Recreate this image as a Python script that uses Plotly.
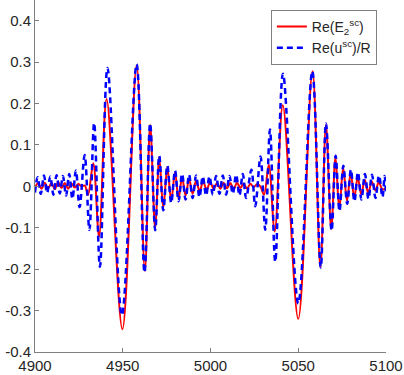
import plotly.graph_objects as go

# red solid: Re(E2 sc) -- turning points
e_x = [4900, 4901.8, 4903.7, 4905.6, 4907.5, 4909.4, 4911.3, 4913.2, 4915.1, 4917.0,
       4918.9, 4920.8, 4922.7, 4924.6, 4926.5, 4928.4, 4930.2, 4933.2, 4936.5, 4940.8,
       4949.8, 4957.9, 4962.6, 4965.6, 4968.5, 4970.8, 4973.1, 4975.4, 4977.6, 4979.8,
       4981.8, 4983.8, 4985.8, 4987.8, 4989.8, 4991.8, 4993.8, 4995.8, 4997.8, 4999.8,
       5001.8, 5003.7, 5005.6, 5007.5, 5009.4, 5011.3, 5013.2, 5015.1, 5017.0, 5018.9,
       5020.8, 5022.7, 5024.6, 5026.5, 5028.4, 5030.5, 5033.2, 5036.6, 5041.2, 5050.0,
       5058.1, 5062.6, 5065.8, 5068.8, 5071.2, 5073.4, 5075.6, 5077.8, 5079.9, 5081.9,
       5083.9, 5085.9, 5087.9, 5089.9, 5091.9, 5093.9, 5095.9, 5097.9, 5100]
e_y = [-0.004, 0.008, -0.006, 0.009, -0.005, 0.008, -0.007, 0.010, -0.004, 0.008,
       -0.006, 0.007, -0.003, 0.006, 0.0, 0.002, -0.021, 0.056, -0.121, 0.211,
       -0.345, 0.292, -0.204, 0.148, -0.103, 0.070, -0.052, 0.046, -0.035, 0.034,
       -0.030, 0.022, -0.022, 0.018, -0.018, 0.014, -0.012, 0.012, -0.008, 0.010,
       -0.006, 0.008, -0.006, 0.009, -0.005, 0.008, -0.007, 0.009, -0.004, 0.007,
       -0.006, 0.006, -0.002, 0.005, 0.0, -0.020, 0.052, -0.109, 0.196, -0.320,
       0.278, -0.195, 0.148, -0.103, 0.070, -0.055, 0.045, -0.035, 0.034, -0.028,
       0.022, -0.020, 0.016, -0.016, 0.012, -0.010, 0.010, -0.007, -0.005]

# blue dashed: Re(u sc)/R
u_x = [4900, 4901.5, 4903.3, 4905.1, 4906.9, 4908.7, 4910.5, 4912.3, 4914.1, 4915.9,
       4917.7, 4919.5, 4921.3, 4923.3, 4925.4, 4928.3, 4931.0, 4933.7, 4937.0, 4941.3,
       4949.5, 4957.9, 4962.4, 4965.6, 4968.5, 4970.8, 4973.1, 4975.4, 4977.6, 4979.8,
       4981.8, 4983.8, 4985.8, 4987.8, 4989.8, 4991.8, 4993.7, 4995.6, 4997.5, 4999.4,
       5001.3, 5003.2, 5005.1, 5007.0, 5008.9, 5010.8, 5012.7, 5014.6, 5016.5, 5018.4,
       5020.3, 5023.3, 5025.5, 5028.5, 5031.2, 5033.9, 5036.9, 5041.3, 5050.0,
       5058.0, 5062.8, 5065.8, 5069.0, 5071.3, 5073.5, 5075.7, 5077.9, 5080.0, 5082.0,
       5084.0, 5086.0, 5088.0, 5090.0, 5092.0, 5094.0, 5096.0, 5098.0, 5099.2, 5100]
u_y = [-0.015, 0.022, -0.018, 0.026, -0.016, 0.024, -0.020, 0.027, -0.017, 0.025,
       -0.022, 0.030, -0.030, 0.038, -0.050, 0.076, -0.105, 0.153, -0.194, 0.286,
       -0.311, 0.295, -0.208, 0.152, -0.106, 0.074, -0.058, 0.050, -0.040, 0.038,
       -0.036, 0.030, -0.032, 0.028, -0.028, 0.026, -0.026, 0.024, -0.022, 0.024,
       -0.020, 0.025, -0.018, 0.026, -0.020, 0.025, -0.018, 0.028, -0.022, 0.030,
       -0.028, 0.040, -0.048, 0.072, -0.105, 0.137, -0.182, 0.272, -0.283,
       0.278, -0.196, 0.152, -0.107, 0.074, -0.060, 0.050, -0.042, 0.040, -0.036,
       0.034, -0.032, 0.030, -0.030, 0.028, -0.028, 0.026, -0.026, 0.025, -0.020]

x_ticks = [4900, 4950, 5000, 5050, 5100]
y_ticks = [-0.4, -0.3, -0.2, -0.1, 0, 0.1, 0.2, 0.3, 0.4]
y_labels = ["-0.4", "-0.3", "-0.2", "-0.1", "0", "0.1", "0.2", "0.3", "0.4"]

fig = go.Figure()
fig.add_trace(go.Scatter(x=e_x, y=e_y, mode="lines", name="Re(E<sub>2</sub><sup>sc</sup>)",
                         line=dict(color="#ff0000", width=2, shape="spline", smoothing=1)))
fig.add_trace(go.Scatter(x=u_x, y=u_y, mode="lines", name="Re(u<sup>sc</sup>)/R",
                         line=dict(color="#0000ff", width=2.5, dash="6px,4px", shape="spline", smoothing=1)))

axis = dict(showgrid=False, zeroline=False, showline=True, linecolor="#808080", linewidth=1,
            ticks="inside", ticklen=4, tickcolor="#808080", automargin=False,
            tickfont=dict(size=15, color="#262626"))
fig.update_xaxes(range=[4900, 5100], tickvals=x_ticks, **axis)
fig.update_yaxes(range=[-0.4, 0.45], tickvals=y_ticks, ticktext=y_labels, **axis)

fig.update_layout(
    width=404, height=375,
    margin=dict(l=35, r=18, t=0, b=23),
    plot_bgcolor="white", paper_bgcolor="white",
    font=dict(family="Liberation Sans, Arial, sans-serif", color="#262626"),
    legend=dict(x=0.974, y=0.972, xanchor="right", yanchor="top",
                bgcolor="white", bordercolor="#808080", borderwidth=1,
                font=dict(size=14), tracegroupgap=0),
    showlegend=True,
)

fig.write_html("out.html", config={"displayModeBar": False},
               post_script="document.body.style.margin='0';")
